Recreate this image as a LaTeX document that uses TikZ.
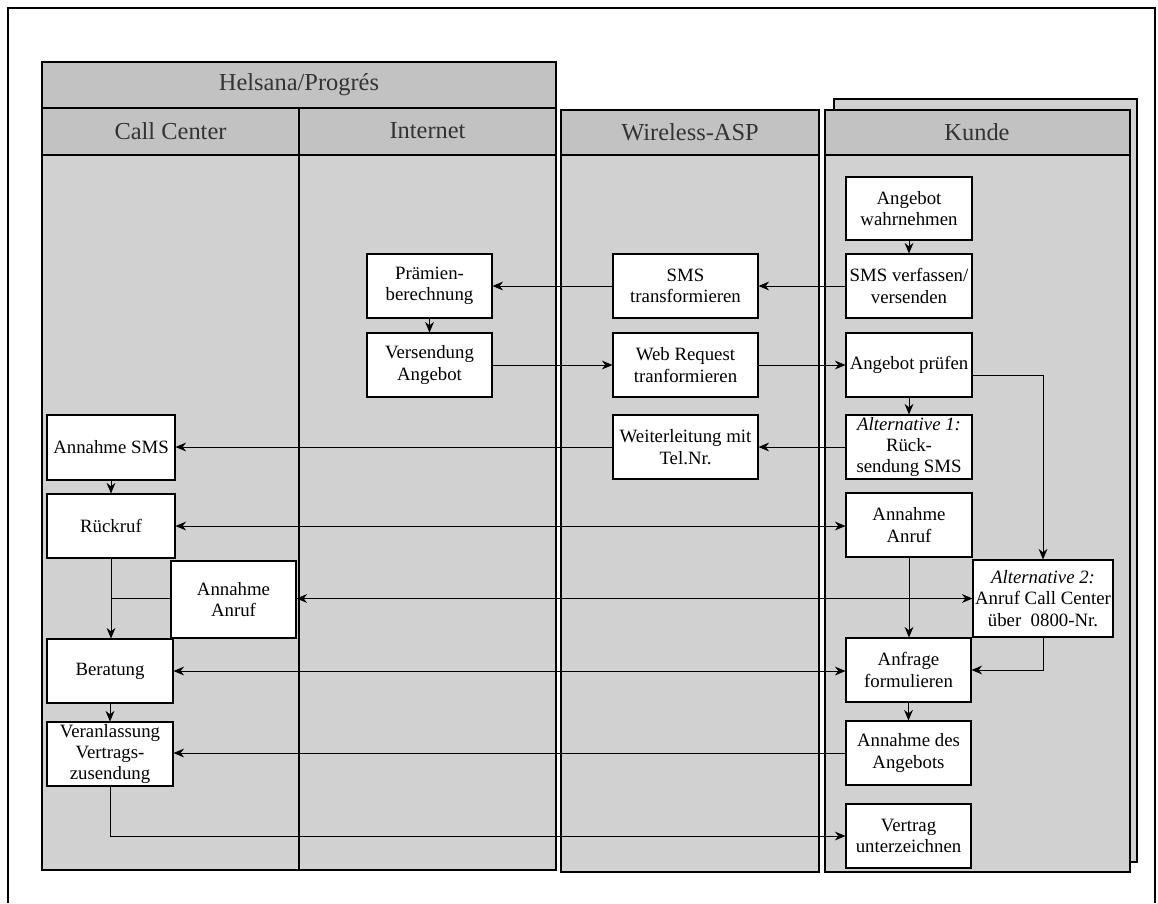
\documentclass[tikz,border=0pt]{standalone}
\usepackage{fontspec}
\setmainfont{Liberation Serif}
\usetikzlibrary{arrows.meta}
\begin{document}
\begin{tikzpicture}[x=0.02cm,y=-0.02cm,
  lanebody/.style={fill=gray!36,draw=black,line width=0.6pt},
  lanehead/.style={fill=gray!48,draw=black,line width=0.6pt},
  headbar/.style={line width=1.1pt},
  headtext/.style={text=black!80,font=\fontsize{13.9}{16}\selectfont},
  box/.style={draw=black,fill=white,line width=0.6pt,inner sep=0pt,align=center,
    font=\fontsize{10.7}{12.2}\selectfont},
  sz/.style n args={2}{minimum width=#1*0.02cm,minimum height=#2*0.02cm},
  arr/.style={line width=0.5pt,-{Stealth[length=6pt,width=5pt]}},
  darr/.style={line width=0.5pt,{Stealth[length=6pt,width=5pt]}-{Stealth[length=6pt,width=5pt]}}]
\useasboundingbox (0,0) rectangle (1158,903);
% outer frame
\draw[line width=0.8pt] (8,903) -- (8,8) -- (1155,8) -- (1155,903);
% Helsana lane
\draw[lanebody] (42,62) rectangle (556,870);
\draw[lanehead] (42,62) rectangle (556,108);
\draw[lanehead] (42,108) rectangle (299,155);
\draw[lanehead] (299,108) rectangle (556,155);
\draw[headbar] (42,108) -- (556,108);
\draw[headbar] (42,155) -- (556,155);
\draw[line width=0.6pt] (299,155) -- (299,870);
\node[headtext] (hh) at (299,85) {Helsana/Progrés};
\node[headtext] (hcc) at (170.5,131) {Call Center};
\node[headtext] (hin) at (427.5,131) {Internet};
% Wireless lane
\draw[lanebody] (561,110) rectangle (819,872);
\draw[lanehead] (561,110) rectangle (819,155);
\draw[headbar] (561,155) -- (819,155);
\node[headtext] (hw) at (690,132) {Wireless-ASP};
% Kunde lane (back card + front)
\draw[lanebody] (834,99) rectangle (1137,862);
\draw[lanebody] (825,110) rectangle (1130,872);
\draw[lanehead] (825,110) rectangle (1130,155);
\draw[headbar] (825,155) -- (1130,155);
\node[headtext] (hk) at (977,132) {Kunde};
% boxes
\node[box,sz={126}{63}] (aw) at (909,208.5) {Angebot\\wahrnehmen};
\node[box,sz={126}{64}] (smsv) at (909,286) {SMS verfassen/\\versenden};
\node[box,sz={145}{64}] (smst) at (685.5,286) {SMS\\transformieren};
\node[box,sz={125}{64}] (praem) at (429.5,286) {Prämien-\\berechnung};
\node[box,sz={125}{64}] (vers) at (429.5,365) {Versendung\\Angebot};
\node[box,sz={145}{64}] (webr) at (685.5,365) {Web Request\\tranformieren};
\node[box,sz={126}{64}] (apruef) at (909,365) {Angebot prüfen};
\node[box,sz={126}{64}] (alt1) at (909,447) {\textit{Alternative 1:}\\Rück-\\sendung SMS};
\node[box,sz={145}{64}] (weiter) at (685.5,447) {Weiterleitung mit\\Tel.Nr.};
\node[box,sz={128}{65}] (asms) at (111,447.5) {Annahme SMS};
\node[box,sz={128}{64}] (rueck) at (111,526) {Rückruf};
\node[box,sz={126}{64}] (kanr) at (909,525) {Annahme\\Anruf};
\node[box,sz={125}{77}] (ccanr) at (233.5,599.5) {Annahme\\Anruf};
\node[box,sz={140}{77}] (alt2) at (1043,598.5) {\textit{Alternative 2:}\\Anruf Call Center\\über\ \ 0800-Nr.};
\node[box,sz={126}{64}] (ber) at (110,671) {Beratung};
\node[box,sz={125}{64}] (anfr) at (908.5,670) {Anfrage\\formulieren};
\node[box,sz={126}{64}] (veran) at (110,754) {Veranlassung\\Vertrags-\\zusendung};
\node[box,sz={125}{64}] (aang) at (908.5,753) {Annahme des\\Angebots};
\node[box,sz={125}{64}] (vertr) at (908.5,836) {Vertrag\\unterzeichnen};
% connectors
\draw[arr] (aw) -- (smsv);
\draw[arr] (smsv) -- (smst);
\draw[arr] (smst) -- (praem);
\draw[arr] (praem) -- (vers);
\draw[arr] (vers) -- (webr);
\draw[arr] (webr) -- (apruef);
\draw[arr] (apruef) -- (alt1);
\draw[arr] (alt1) -- (weiter);
\draw[arr] (weiter.west) -- (weiter.west -| asms.east);
\draw[arr] (asms) -- (rueck);
\draw[darr] (rueck.east) -- (rueck.east -| kanr.west);
\draw[darr] (ccanr.east |- alt2.west) -- (alt2.west);
\draw[arr] (rueck.south) -- (rueck.south |- ber.north);
\draw[line width=0.5pt] (ccanr.west |- alt2.west) -- (alt2.west -| rueck.south);
\draw[arr] (kanr.south) -- (kanr.south |- anfr.north);
\draw[arr] ([yshift=-0.2cm]apruef.east) -| (alt2.north);
\draw[arr] (alt2.south) |- (anfr.east);
\draw[darr] (ber.east) -- (ber.east -| anfr.west);
\draw[arr] (anfr) -- (aang);
\draw[arr] (ber) -- (veran);
\draw[arr] (aang.west) -- (aang.west -| veran.east);
\draw[arr] (veran.south) |- (vertr.west);
\end{tikzpicture}
\end{document}
